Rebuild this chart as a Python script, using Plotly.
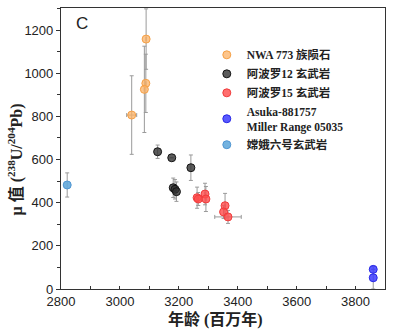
import plotly.graph_objects as go

# ---- data ----
nwa_age = [3040, 3089, 3088, 3083]
nwa_mu = [806, 1158, 953, 925]
nwa_mu_err = [182, 140, 135, 200]
nwa_age_err = [17, 0, 0, 0]

a12_age = [3128, 3176, 3241, 3181, 3187, 3192]
a12_mu = [636, 608, 562, 469, 462, 451]
a12_mu_err = [31, 0, 59, 45, 45, 45]

a15_age = [3262, 3266, 3289, 3292, 3357, 3352, 3367]
a15_mu = [423, 417, 440, 417, 386, 357, 334]
a15_mu_err = [49, 30, 50, 58, 57, 30, 30]
a15_age_err = [0, 0, 0, 0, 0, 0, 45]

ask_age = [3860, 3860]
ask_mu = [91, 52]
ask_mu_err = [0, 52]

ce6_age = [2821]
ce6_mu = [482]
ce6_mu_err = [56]

names = ["NWA 773 族陨石", "阿波罗12 玄武岩", "阿波罗15 玄武岩",
         "Asuka-881757<br>Miller Range 05035", "嫦娥六号玄武岩"]

x_ticks = [2800, 3000, 3200, 3400, 3600, 3800]
y_ticks = [0, 200, 400, 600, 800, 1000, 1200]

SERIF = "Liberation Serif, Noto Sans CJK SC, serif"
SANS = "Liberation Sans, Arial, sans-serif"

fig = go.Figure()

def add(x, y, ey, ex, name, fill, edge):
    err_y = dict(type="data", array=ey, visible=True, color="#9a9a9a", thickness=1, width=2)
    err_x = dict(type="data", array=ex, visible=True, color="#9a9a9a", thickness=1, width=2) if ex else None
    fig.add_trace(go.Scatter(
        x=x, y=y, mode="markers", name=name,
        error_y=err_y, error_x=err_x,
        marker=dict(size=8, color=fill, line=dict(color=edge, width=1)),
    ))

add(nwa_age, nwa_mu, nwa_mu_err, nwa_age_err, names[0], "rgba(252,178,100,0.75)", "rgba(245,160,70,1)")
add(a12_age, a12_mu, a12_mu_err, None, names[1], "rgba(50,50,50,0.8)", "rgba(20,20,20,1)")
add(a15_age, a15_mu, a15_mu_err, a15_age_err, names[2], "rgba(255,75,75,0.8)", "rgba(240,60,60,1)")
add(ask_age, ask_mu, ask_mu_err, None, names[3], "rgba(60,60,255,0.85)", "rgba(40,40,230,1)")
add(ce6_age, ce6_mu, ce6_mu_err, None, names[4], "rgba(100,170,220,0.9)", "rgba(80,150,210,1)")

fig.update_layout(
    width=394, height=332,
    margin=dict(l=61, r=9, t=8, b=43),
    paper_bgcolor="white", plot_bgcolor="white",
    font=dict(family=SANS, size=13, color="#222"),
    legend=dict(x=0.45, y=0.885, xanchor="left", yanchor="top",
                bgcolor="rgba(0,0,0,0)",
                font=dict(family=SERIF, size=11.5, color="#222", weight="bold"),
                itemwidth=30, tracegroupgap=0),
    showlegend=True,
    annotations=[
        dict(text="C", x=0.04, y=0.985, xref="paper", yref="paper",
             xanchor="left", yanchor="top", showarrow=False,
             font=dict(family=SANS, size=17, color="#222")),
        dict(text="μ 值 (<sup>238</sup>U/<sup>204</sup>Pb)", x=-0.139, y=0.461,
             xref="paper", yref="paper", textangle=-90, showarrow=False,
             xanchor="center", yanchor="middle",
             font=dict(family=SERIF, size=16, color="#222", weight="bold")),
        dict(text="年龄 (百万年)", x=0.478, y=-0.11,
             xref="paper", yref="paper", showarrow=False,
             xanchor="center", yanchor="middle",
             font=dict(family=SERIF, size=16, color="#222", weight="bold")),
    ],
)

fig.update_xaxes(
    range=[2800, 3900], tickvals=x_ticks,
    ticks="inside", ticklen=3, tickcolor="#333",
    minor=dict(dtick=100, ticks="inside", ticklen=3, tickcolor="#333"),
    showline=True, linecolor="#333", linewidth=1.2, mirror=True,
    showgrid=False, zeroline=False,
)
fig.update_yaxes(
    range=[0, 1302], tickvals=y_ticks,
    ticks="outside", ticklen=4, tickcolor="#333",
    minor=dict(dtick=100, ticks="outside", ticklen=3, tickcolor="#333"),
    showline=True, linecolor="#333", linewidth=1.2, mirror=True,
    showgrid=False, zeroline=False,
)

fig.write_html("out.html")
